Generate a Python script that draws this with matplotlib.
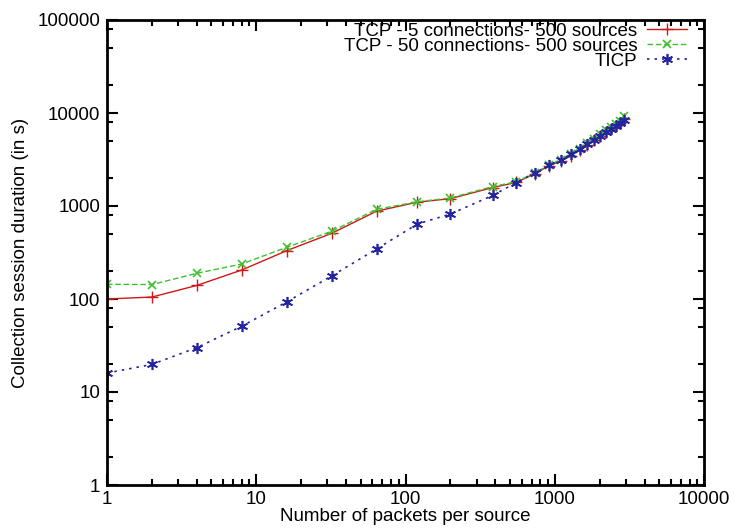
import matplotlib
matplotlib.use("Agg")
import matplotlib.pyplot as plt
from matplotlib.ticker import LogLocator, NullFormatter, FixedLocator

plt.rcParams['font.family'] = ['Liberation Sans', 'DejaVu Sans']

x_vals = [1, 2, 4, 8, 16, 32, 64, 120, 200, 384, 550, 733, 916, 1100, 1283,
          1466, 1650, 1833, 2016, 2200, 2383, 2566, 2750, 2933]
tcp5 = [100, 105, 140, 205, 331, 508, 880, 1100, 1200, 1580, 1790, 2230, 2700,
        3050, 3450, 4000, 4550, 5100, 5650, 6200, 6750, 7300, 7900, 8600]
tcp50 = [144, 143, 189, 238, 360, 534, 921, 1110, 1220, 1620, 1820, 2270, 2760,
         3150, 3650, 4150, 4700, 5300, 5900, 6500, 7100, 7700, 8300, 9300]
ticp = [16, 19.8, 30, 51, 93, 177, 345, 640, 820, 1300, 1780, 2240, 2730, 3130,
        3620, 4100, 4600, 5120, 5650, 6180, 6700, 7250, 7780, 8400]

labels = ["TCP - 5 connections- 500 sources",
          "TCP - 50 connections- 500 sources",
          "TICP"]
x_ticks = [1, 10, 100, 1000, 10000]
y_ticks = [1, 10, 100, 1000, 10000, 100000]

FS = 13.5

fig = plt.figure(figsize=(7.34, 5.31), dpi=100)
ax = fig.add_axes([107/734, 1 - 485/531, (704 - 107)/734, (485 - 20)/531])

ax.plot(x_vals, tcp5, color='#d01818', linestyle='-', linewidth=1.0,
        marker='+', markersize=8, markeredgewidth=1.0, label=labels[0])
ax.plot(x_vals, tcp50, color='#40c030', linestyle=(0, (4, 2)), linewidth=1.0,
        marker='x', markersize=6, markeredgewidth=1.2, label=labels[1])
ax.plot(x_vals, ticp, color='#2424a0', linestyle=(0, (1.5, 3)), linewidth=1.2,
        marker=(6, 2, 0), markersize=8, markeredgewidth=1.2, label=labels[2])

ax.set_xscale('log')
ax.set_yscale('log')
ax.set_xlim(1, 10000)
ax.set_ylim(1, 100000)
ax.xaxis.set_major_locator(FixedLocator(x_ticks))
ax.yaxis.set_major_locator(FixedLocator(y_ticks))
ax.set_xticklabels([str(v) for v in x_ticks])
ax.set_yticklabels([str(v) for v in y_ticks])
ax.xaxis.set_minor_locator(LogLocator(base=10, subs=range(2, 10)))
ax.yaxis.set_minor_locator(LogLocator(base=10, subs=[2, 5, 8]))
ax.xaxis.set_minor_formatter(NullFormatter())
ax.yaxis.set_minor_formatter(NullFormatter())

ax.tick_params(which='both', direction='in', top=True, right=True,
               labelsize=FS, width=1.5)
ax.tick_params(axis='y', pad=5)
ax.tick_params(axis='x', pad=4)
ax.tick_params(which='major', length=8)
ax.tick_params(which='minor', length=4)
for s in ax.spines.values():
    s.set_linewidth(2)

ax.set_xlabel("Number of packets per source", fontsize=FS, labelpad=0)
ax.set_ylabel("Collection session duration (in s)", fontsize=FS, labelpad=6)

leg = ax.legend(loc='upper right', bbox_to_anchor=(0.9715, 0.994),
                markerfirst=False, frameon=False, fontsize=FS,
                labelspacing=-0.12, handlelength=2.15, handletextpad=0.5,
                borderaxespad=0.0, borderpad=0.0)

fig.savefig("out.png", dpi=100)
